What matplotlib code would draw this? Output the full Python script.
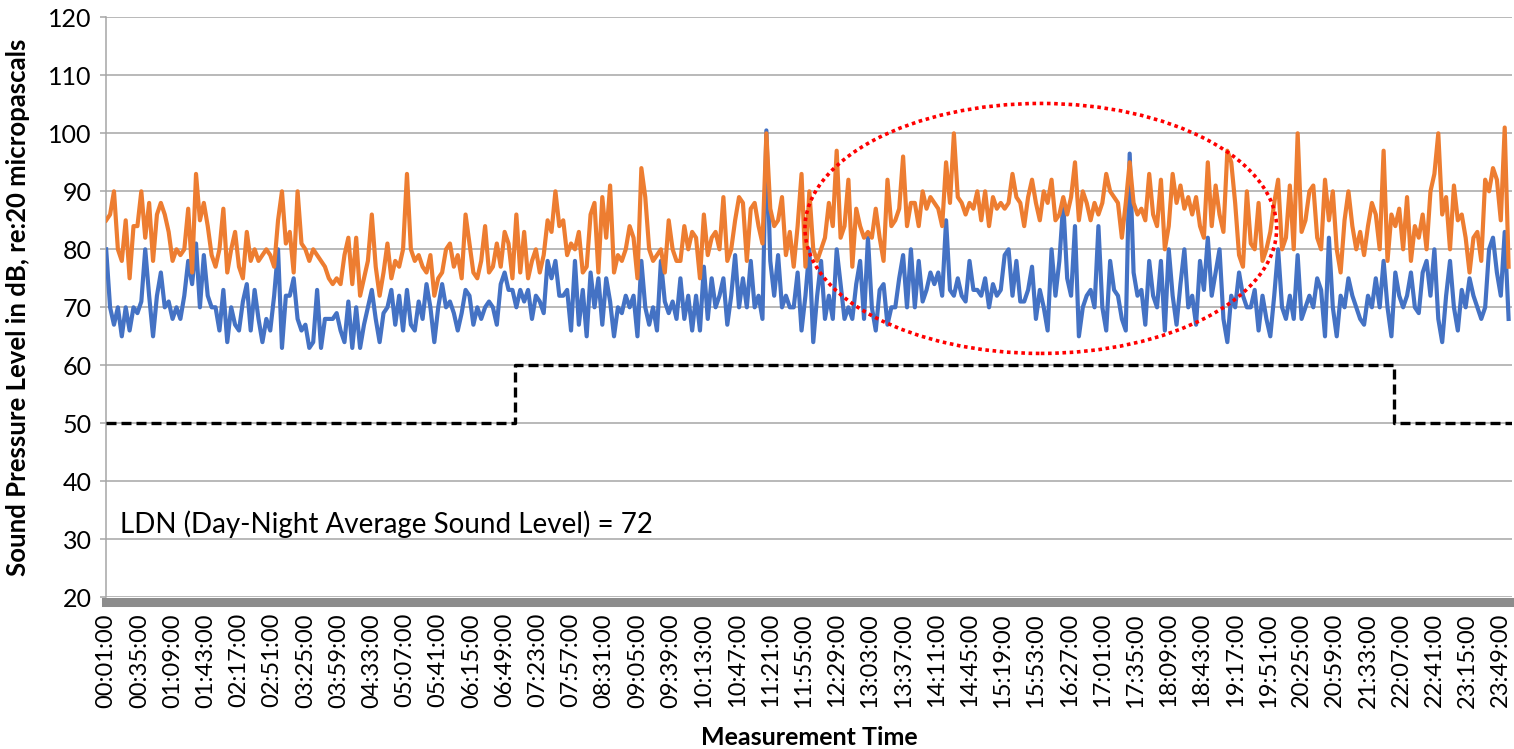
import numpy as np
import matplotlib
matplotlib.use("Agg")
import matplotlib.pyplot as plt
from matplotlib.patches import Ellipse

plt.rcParams["font.family"] = ["Lato", "DejaVu Sans"]

# readings every 4 minutes, first one at 00:01:00
STEP_MIN = 4
N_MIN = 1440

# upper trace (orange), dB
level_max = [
    85, 86, 90, 80, 78, 85, 75, 84, 84, 90,
    82, 88, 78, 86, 88, 86, 83, 78, 80, 79,
    80, 87, 76, 93, 85, 88, 84, 79, 77, 80,
    87, 76, 80, 83, 77, 75, 83, 78, 80, 78,
    79, 80, 79, 77, 85, 90, 81, 83, 76, 90,
    81, 80, 78, 80, 79, 78, 77, 75, 74, 75,
    74, 79, 82, 74, 82, 72, 75, 78, 86, 77,
    72, 76, 81, 75, 78, 77, 80, 93, 80, 78,
    79, 77, 76, 79, 72, 75, 76, 80, 81, 77,
    79, 75, 86, 81, 76, 75, 78, 84, 76,
    77, 81, 77, 83, 81, 75, 86, 76, 83, 75,
    78, 80, 76, 79, 85, 83, 90, 84, 85, 79,
    81, 80, 83, 76, 77, 86, 88, 76, 89, 82,
    91, 76, 79, 78, 80, 84, 82, 75, 94, 89,
    80, 78, 79, 80, 76, 85, 80, 78, 78, 84,
    80, 83, 82, 75, 86, 79, 82, 83, 80, 89,
    78, 80, 85, 89, 88, 78, 87, 88, 84, 81,
    100, 87, 84, 85, 89, 79, 83, 77, 84, 93,
    77, 90, 80, 78, 80, 82, 88, 84, 97,
    82, 84, 92, 77, 87, 84, 82, 83, 82, 87,
    82, 78, 92, 84, 85, 87, 96, 84, 88, 88,
    84, 90, 87, 89, 88, 87, 84, 95, 88, 100,
    89, 88, 86, 88, 87, 90, 85, 90, 84, 89,
    87, 88, 87, 88, 93, 89, 88, 84, 89, 92,
    88, 85, 90, 88, 92, 85, 86, 89, 86, 89,
    95, 85, 90, 88, 85, 88, 86, 88, 93, 90,
    89, 88, 82, 88, 95, 88, 86, 87, 85, 93,
    86, 84, 92, 80, 84, 93, 88, 91, 87,
    89, 86, 89, 84, 82, 95, 84, 91, 86, 83,
    97, 95, 88, 79, 77, 90, 81, 80, 88, 78,
    80, 83, 88, 92, 80, 82, 91, 80, 100, 83,
    85, 90, 91, 82, 80, 92, 85, 90, 80, 76,
    85, 90, 84, 80, 83, 79, 84, 88, 86, 80,
    97, 78, 86, 84, 87, 80, 89, 78, 84, 82,
    86, 80, 90, 93, 100, 86, 89, 80, 91, 85,
    86, 82, 76, 82, 83, 78, 92, 90, 94, 92,
    85, 101, 77,
]

# lower trace (blue), dB
level_min = [
    80, 70, 67, 70, 65, 70, 66, 70, 69, 71,
    80, 72, 65, 72, 76, 70, 71, 68, 70, 68,
    72, 78, 74, 81, 70, 79, 72, 70, 70, 66,
    73, 64, 70, 67, 66, 71, 74, 66, 73, 68,
    64, 68, 66, 72, 80, 63, 72, 72, 75, 68,
    66, 67, 63, 64, 73, 63, 68, 68, 68, 69,
    66, 64, 71, 63, 70, 63, 67, 70, 73, 68,
    64, 69, 70, 73, 67, 72, 66, 73, 67, 66,
    71, 68, 74, 70, 64, 70, 74, 70, 71, 69,
    66, 69, 73, 72, 67, 70, 68, 70, 71,
    70, 67, 74, 76, 73, 73, 70, 73, 71, 73,
    68, 72, 71, 69, 78, 75, 78, 72, 72, 73,
    66, 78, 67, 73, 65, 76, 70, 75, 67, 75,
    71, 65, 70, 69, 72, 70, 72, 65, 78, 70,
    67, 70, 66, 78, 71, 69, 71, 68, 75, 68,
    72, 66, 72, 66, 77, 68, 75, 70, 72, 75,
    67, 72, 79, 70, 75, 70, 78, 70, 72, 68,
    100.5, 78, 72, 79, 70, 72, 70, 70, 76, 66,
    72, 80, 64, 72, 78, 68, 72, 68, 80,
    74, 68, 70, 68, 74, 78, 68, 82, 70, 66,
    73, 74, 67, 70, 70, 75, 79, 70, 80, 70,
    78, 71, 73, 76, 74, 76, 72, 85, 73, 72,
    75, 72, 71, 78, 73, 73, 72, 75, 70, 74,
    72, 73, 79, 80, 72, 78, 71, 71, 73, 77,
    68, 73, 70, 66, 80, 72, 78, 88, 75, 72,
    84, 65, 70, 72, 73, 70, 84, 70, 66, 78,
    73, 72, 68, 66, 96.5, 76, 72, 73, 67, 78,
    72, 70, 78, 66, 80, 72, 67, 74, 80,
    70, 72, 67, 78, 73, 82, 72, 76, 80, 68,
    64, 72, 70, 76, 72, 70, 70, 73, 66, 72,
    68, 65, 72, 80, 70, 68, 72, 68, 79, 68,
    70, 72, 70, 75, 73, 65, 82, 70, 65, 72,
    70, 75, 72, 70, 68, 67, 72, 70, 75, 70,
    78, 70, 65, 76, 72, 70, 72, 76, 70, 69,
    76, 78, 72, 80, 68, 64, 72, 78, 70, 66,
    73, 70, 75, 72, 70, 68, 70, 80, 82, 76,
    72, 83, 68,
]

# day/night noise limit: minute (after 00:01) where it starts, and level
limit_start = [0, 419, 1319, 1439]
limit_db = [50, 60, 50, 50]

y_ticks = list(range(20, 121, 10))
label_every = 34
note_text = "LDN (Day-Night Average Sound Level) = 72"

t = np.arange(len(level_max)) * STEP_MIN

fig = plt.figure(figsize=(15.14, 7.49), dpi=100)
ax = fig.add_axes([0.0698, 0.2025, 0.9289, 0.7744])

# spine position first: set_position resets the tick objects
for side in ("top", "right"):
    ax.spines[side].set_visible(False)
ax.spines["left"].set_color("#a6a6a6")
ax.spines["left"].set_linewidth(1.1)
ax.spines["bottom"].set_color("#8c8c8c")
ax.spines["bottom"].set_linewidth(6.5)
ax.spines["bottom"].set_position(("outward", 3.3))
ax.spines["bottom"].set_zorder(6)

ax.plot(t, level_min, color="#4472C4", lw=3.0, zorder=3, solid_joinstyle="round")
ax.plot(t, level_max, color="#ED7D31", lw=3.0, zorder=4, solid_joinstyle="round")
ax.step(limit_start, limit_db, where="post", color="black", lw=2.4,
        linestyle=(0, (3, 1.5)), zorder=3)

# circled area of interest
ax.add_patch(Ellipse((957, 83.6), 483, 43.1, fill=False, edgecolor="#FF0000",
                     lw=2.6, linestyle=(0, (1, 1)), zorder=5))

ax.text(14, 32.6, note_text, fontsize=20, ha="left", va="center")

ax.set_xlim(-0.5, N_MIN - 0.5)
ax.set_ylim(20, 120)
ax.set_yticks(y_ticks)
ticks = np.arange(0, N_MIN, label_every)
ax.set_xticks(ticks)
ax.set_xticklabels([f"{(m + 1) // 60:02d}:{(m + 1) % 60:02d}:00" for m in ticks])

ax.yaxis.grid(True, color="#a6a6a6", lw=1.1)
ax.set_axisbelow(True)

ax.tick_params(axis="x", length=0, pad=8, labelsize=17, labelrotation=90)
ax.tick_params(axis="y", length=4, width=1.1, color="#a6a6a6", pad=6, labelsize=18)

ax.set_ylabel("Sound Pressure Level in dB, re:20 micropascals",
              fontsize=18.5, fontweight="bold")
ax.yaxis.set_label_coords(-0.0538, 0.5)
ax.set_xlabel("Measurement Time", fontsize=18, fontweight="bold")
ax.xaxis.set_label_coords(0.5, -0.222)

fig.savefig("out.png", dpi=100)
